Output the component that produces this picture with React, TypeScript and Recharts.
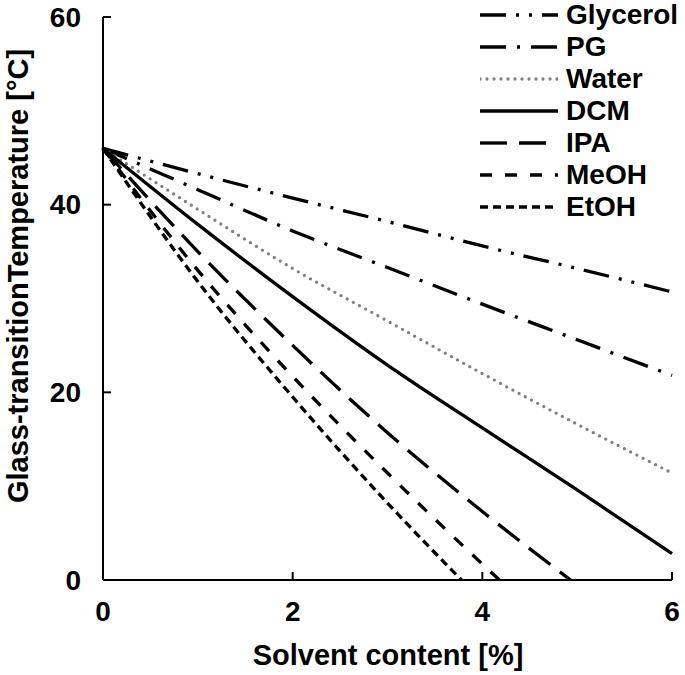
import React from 'react';
import { LineChart, Line, XAxis, YAxis, Legend } from 'recharts';

// solvent content [%] and Tg [°C]
const xGrid = [0, 1, 2, 3, 4, 5, 6];
const glycerolTg = [46, 43.3, 40.7, 38.2, 35.6, 33.2, 30.7];
const pgTg = [46, 41.6, 37.2, 33.3, 29.4, 25.6, 21.8];
const waterTg = [46, 39.5, 33.2, 27.6, 22.0, 16.6, 11.4];
const dcmTg = [46, 37.9, 30.2, 22.9, 16.2, 9.6, 2.8];
const ipaX = [0, 1, 2, 3, 4, 4.93];
const ipaTg = [46, 35.0, 25.0, 15.7, 7.3, 0];
const meohX = [0, 1, 2, 3, 4, 4.18];
const meohTg = [46, 33.0, 21.7, 11.4, 1.7, 0];
const etohX = [0, 1, 2, 3, 3.78];
const etohTg = [46, 31.8, 19.5, 8.2, 0];

const xTicks = [0, 2, 4, 6];
const yTicks = [0, 20, 40, 60];

const toPoints = (xs: number[], ys: number[]) => xs.map((x, i) => ({ x, y: ys[i] }));

const series = [
  { name: 'Glycerol', data: toPoints(xGrid, glycerolTg), color: '#000', dash: '26 10 3 10 3 10', cap: 'butt' },
  { name: 'PG', data: toPoints(xGrid, pgTg), color: '#000', dash: '26 11 3 11', cap: 'butt' },
  { name: 'Water', data: toPoints(xGrid, waterTg), color: '#7f7f7f', dash: '0 7', cap: 'round' },
  { name: 'DCM', data: toPoints(xGrid, dcmTg), color: '#000', dash: undefined, cap: 'butt' },
  { name: 'IPA', data: toPoints(ipaX, ipaTg), color: '#000', dash: '27 12', cap: 'butt' },
  { name: 'MeOH', data: toPoints(meohX, meohTg), color: '#000', dash: '12 13', cap: 'butt' },
  { name: 'EtOH', data: toPoints(etohX, etohTg), color: '#000', dash: '8 5', cap: 'butt' },
];

const FONT = '"Liberation Sans", Arial, sans-serif';
const MARGIN = 10;

const XTick = (props: any) => {
  const { x, y, payload } = props;
  const axisY = y - MARGIN;
  return (
    <g>
      <line x1={x} x2={x} y1={axisY} y2={axisY - 8} stroke="#000" strokeWidth={2} />
      <text x={x} y={axisY + 31} textAnchor="middle" dominantBaseline="central"
        fontFamily={FONT} fontWeight="bold" fontSize={28} fill="#000">{payload.value}</text>
    </g>
  );
};

const YTick = (props: any) => {
  const { x, y, payload } = props;
  const axisX = x + MARGIN;
  return (
    <g>
      <line x1={axisX} x2={axisX + 8} y1={y} y2={y} stroke="#000" strokeWidth={2} />
      <text x={axisX - 22} y={y} textAnchor="end" dominantBaseline="central"
        fontFamily={FONT} fontWeight="bold" fontSize={28} fill="#000">{payload.value}</text>
    </g>
  );
};

const YTitle = () => (
  <text x={18} y={276} transform="rotate(-90, 18, 276)" textAnchor="middle" dominantBaseline="central"
    fontFamily={FONT} fontWeight="bold" fontSize={29} fill="#000">
    Glass-transitionTemperature [°C]
  </text>
);

const XTitle = () => (
  <text x={388} y={655} textAnchor="middle" dominantBaseline="central"
    fontFamily={FONT} fontWeight="bold" fontSize={29} fill="#000">
    Solvent content [%]
  </text>
);

const renderLegend = () => (
  <div>
    {series.map((s) => (
      <div key={s.name} style={{ display: 'flex', alignItems: 'center', height: 32 }}>
        <svg width={78} height={10} style={{ marginRight: 8 }}>
          <line x1={0} x2={78} y1={5} y2={5} stroke={s.color} strokeWidth={3.3}
            strokeDasharray={s.dash} strokeLinecap={s.cap as any} />
        </svg>
        <span style={{ fontFamily: FONT, fontWeight: 'bold', fontSize: 28, color: '#000', lineHeight: '32px' }}>
          {s.name}
        </span>
      </div>
    ))}
  </div>
);

export default function App() {
  return (
    <div style={{ position: 'absolute', left: 0, top: 0, background: '#fff' }}>
      <LineChart width={685} height={675} margin={{ top: 17, right: 13, left: 0, bottom: 0 }}>
        <XAxis dataKey="x" type="number" domain={[0, 6]} ticks={xTicks} interval={0}
          height={95} tickSize={0} tickMargin={MARGIN} tickLine={false}
          axisLine={{ stroke: '#000', strokeWidth: 2 }} tick={<XTick />} label={<XTitle />} />
        <YAxis type="number" domain={[0, 60]} ticks={yTicks} interval={0}
          width={103} tickSize={0} tickMargin={MARGIN} tickLine={false}
          axisLine={{ stroke: '#000', strokeWidth: 2 }} tick={<YTick />} label={<YTitle />} />
        <Legend content={renderLegend} layout="vertical" align="center" verticalAlign="middle"
          wrapperStyle={{ top: -1, left: 480, width: 200, height: 230 }} />
        {series.map((s) => (
          <Line key={s.name} name={s.name} data={s.data} dataKey="y" type="monotone"
            stroke={s.color} strokeWidth={3.3} strokeDasharray={s.dash} strokeLinecap={s.cap as any}
            dot={false} activeDot={false} isAnimationActive={false} />
        ))}
      </LineChart>
    </div>
  );
}
